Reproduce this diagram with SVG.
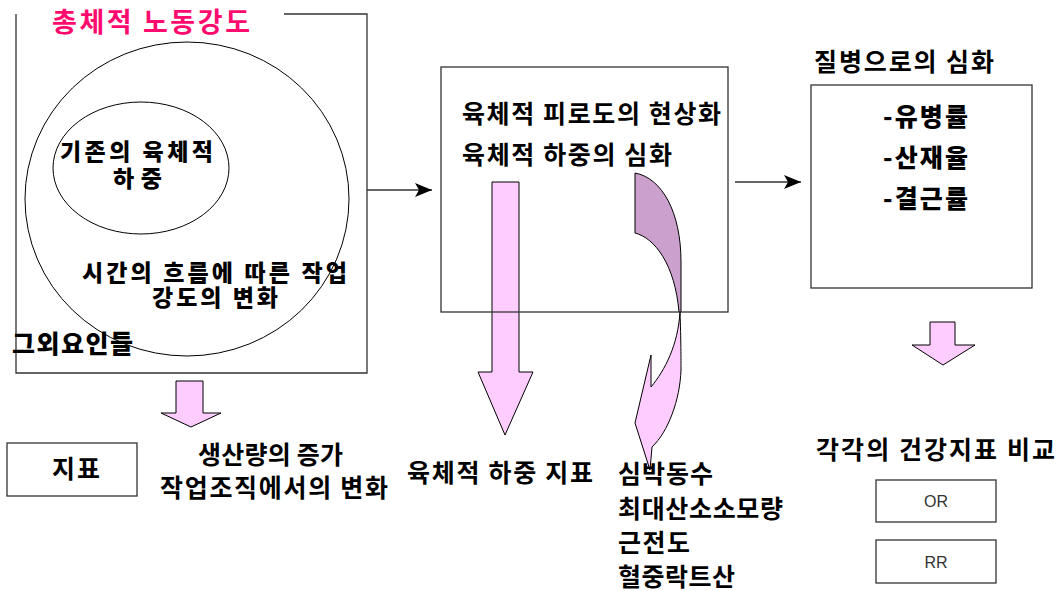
<svg xmlns="http://www.w3.org/2000/svg" width="1062" height="591" viewBox="0 0 1062 591">
<defs>
<marker id="ah" markerUnits="userSpaceOnUse" markerWidth="18" markerHeight="16" refX="17" refY="7" orient="auto">
<path d="M0,0 L17,7 L0,14 L4,7 Z" fill="#000"/>
</marker>
<style>
.t{font-family:"Noto Sans CJK KR","Noto Sans",sans-serif;font-weight:700;fill:#000;font-size:25px}
.h{font-weight:900}
.c{font-size:23px}
.box{fill:none;stroke:#333;stroke-width:1.3}
.pink{fill:#FFCCFF;stroke:#000;stroke-width:1}
.purple{fill:#CCA0CC;stroke:#000;stroke-width:1}
.conn{stroke:#333;stroke-width:1.3;fill:none}
.small{font-family:"Liberation Sans",Arial,sans-serif;font-size:16px;fill:#333;font-weight:400}
</style>
</defs>
<rect width="1062" height="591" fill="#fff"/>

<g id="arrows-fill">
<path class="pink" d="M492,182 L519,182 L519,372 L533,372 L505,435 L478,372 L492,372 Z"/>
<path class="pink" d="M680,312 C681,340 681,360 681,370 C680,400 668,432 652,447 L650,470 L635,423 L651,355 L651,387 C665,370 678,345 680,312 Z"/>
<path class="purple" d="M635,173 C662,178 681,212 681,262 L681,312 L679,312 C675,265 655,238 635,233 Z"/>
<path class="pink" d="M176,381 L203,381 L203,413 L221,413 L191,427 L161,413 L176,413 Z"/>
<path class="pink" d="M930,322 L955,322 L955,345 L975,345 L943,365 L912,345 L930,345 Z"/>
</g>

<g id="node-total">
<path class="box" d="M284,14 L367,14 L367,373 L16,373 L16,14"/>
<ellipse cx="187" cy="199" rx="162" ry="157" fill="none" stroke="#000" stroke-width="1"/>
<ellipse cx="141" cy="168" rx="88" ry="66" fill="none" stroke="#000" stroke-width="1"/>
<text class="t" x="52" y="32" textLength="198" lengthAdjust="spacing" style="font-size:27px;fill:#FF0A6E">총체적 노동강도</text>
<text class="t h c" x="60" y="160" textLength="153" lengthAdjust="spacing">기존의 육체적</text>
<text class="t h c" x="113" y="187" textLength="49" lengthAdjust="spacing">하중</text>
<text class="t h c" x="82" y="281" textLength="265" lengthAdjust="spacing">시간의 흐름에 따른 작업</text>
<text class="t h c" x="152" y="306" textLength="126" lengthAdjust="spacing">강도의 변화</text>
<text class="t h" x="12" y="353" textLength="121" lengthAdjust="spacing">그외요인들</text>
</g>

<g id="node-fatigue">
<rect class="box" x="441" y="67" width="287" height="245"/>
<text class="t" x="462" y="123" textLength="259" lengthAdjust="spacing">육체적 피로도의 현상화</text>
<text class="t" x="462" y="164" textLength="210" lengthAdjust="spacing">육체적 하중의 심화</text>
</g>

<g id="node-disease">
<text class="t" x="814" y="71" textLength="180" lengthAdjust="spacing">질병으로의 심화</text>
<rect class="box" x="811" y="85" width="221" height="203"/>
<text class="t h" x="883" y="126" textLength="85" lengthAdjust="spacing">-유병률</text>
<text class="t h" x="883" y="167" textLength="85" lengthAdjust="spacing">-산재율</text>
<text class="t h" x="883" y="208" textLength="85" lengthAdjust="spacing">-결근률</text>
</g>

<g id="node-index">
<rect class="box" x="7" y="443" width="130" height="53"/>
<text class="t" x="52" y="478" textLength="48" lengthAdjust="spacing">지표</text>
</g>

<g id="node-production">
<text class="t" x="198" y="464" textLength="145" lengthAdjust="spacing">생산량의 증가</text>
<text class="t" x="160" y="497" textLength="228" lengthAdjust="spacing">작업조직에서의 변화</text>
</g>

<g id="node-load-index">
<text class="t" x="407" y="482" textLength="186" lengthAdjust="spacing">육체적 하중 지표</text>
</g>

<g id="node-measures">
<text class="t" x="618" y="483" textLength="95" lengthAdjust="spacing">심박동수</text>
<text class="t" x="618" y="518" textLength="165" lengthAdjust="spacing">최대산소소모량</text>
<text class="t" x="618" y="552" textLength="72" lengthAdjust="spacing">근전도</text>
<text class="t" x="618" y="586" textLength="117" lengthAdjust="spacing">혈중락트산</text>
</g>

<g id="node-health">
<text class="t" x="816" y="459" textLength="239" lengthAdjust="spacing">각각의 건강지표 비교</text>
<rect class="box" x="876" y="480" width="120" height="42"/>
<text class="small" x="936" y="507" text-anchor="middle">OR</text>
<rect class="box" x="876" y="540" width="120" height="43"/>
<text class="small" x="936" y="568" text-anchor="middle">RR</text>
</g>

<g id="connectors">
<line class="conn" x1="367" y1="190" x2="432" y2="190" marker-end="url(#ah)"/>
<line class="conn" x1="735" y1="182" x2="801" y2="182" marker-end="url(#ah)"/>
</g>
</svg>
